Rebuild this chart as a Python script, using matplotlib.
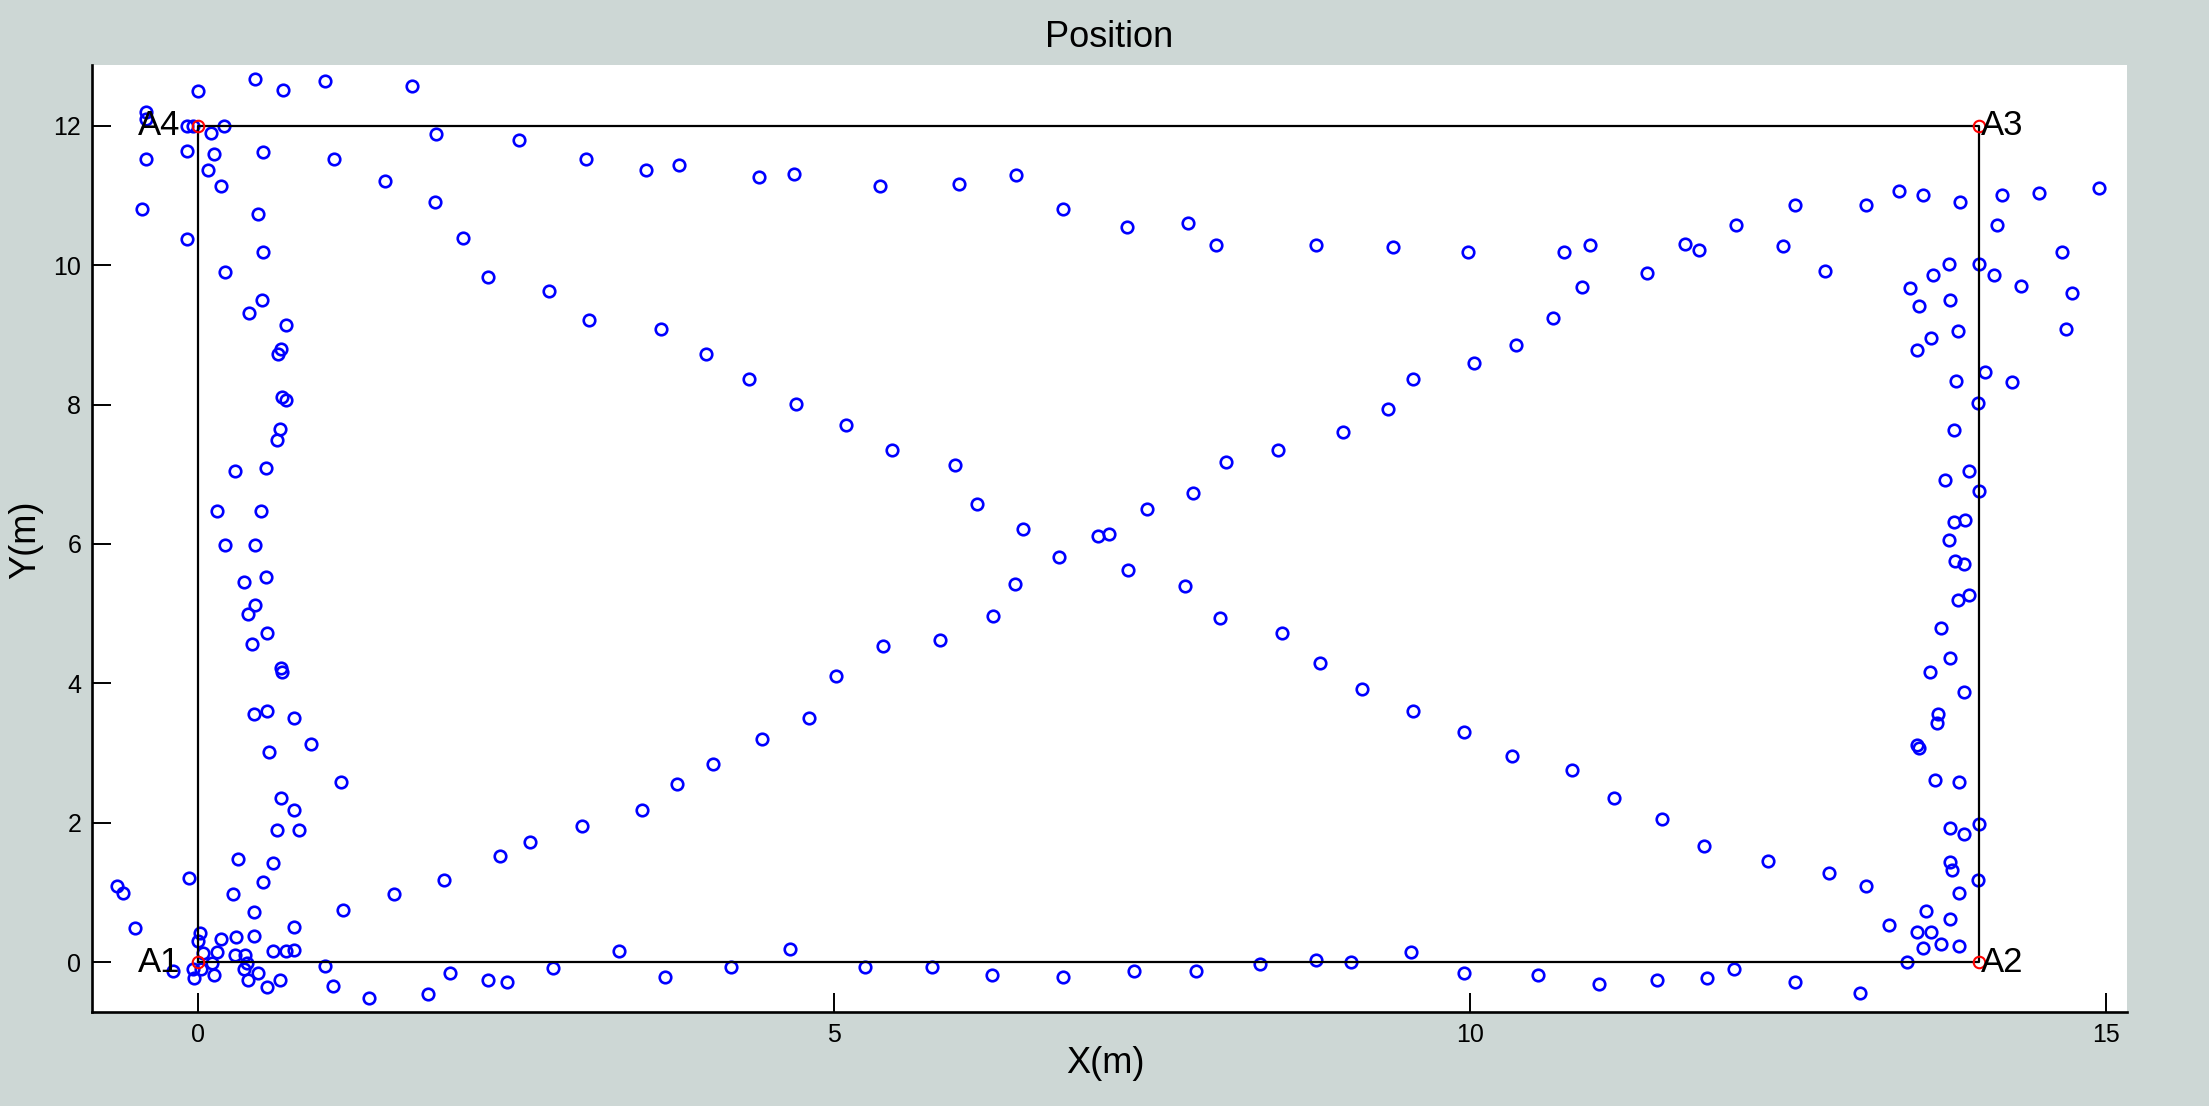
import matplotlib
matplotlib.use("Agg")
import matplotlib.pyplot as plt

plt.rcParams['font.family'] = ['Liberation Sans', 'DejaVu Sans']

# ---- data ----
x_pos = [
    # top-left region
    0.0, 0.45, 0.67, 1.0, 1.68, -0.41, -0.41, -0.09, -0.04, 0.2, 0.1,
    1.87, 2.52, 3.05, -0.41, -0.09, 0.12, 0.51, 1.07, 0.08, 0.18, 1.47, 1.86,
    -0.44, 0.47, 2.08, -0.09, 0.51, 0.21, 2.28, 2.76, 0.5, 0.40, 0.69, 3.07,
    0.65, 0.63,
    # top middle
    3.52, 3.78, 4.41, 4.68, 5.36, 5.98, 6.43, 6.8, 3.64, 3.99, 4.33,
    7.30, 7.78, 8.0, 8.79, 9.39, 9.98, 10.74, 10.94, 10.88, 10.65, 10.36,
    10.03, 9.55,
    # top right
    11.39, 11.69, 11.8, 12.09, 12.46, 12.55, 12.79, 13.11, 13.37, 13.56, 13.85,
    14.18, 14.47, 14.94, 14.14, 14.65, 14.73, 14.68, 14.33, 14.12, 14.0, 13.76,
    13.64, 13.46, 13.53, 13.77, 13.83, 13.62, 13.51, 13.82, 14.05, 14.26,
    # right column
    13.99, 13.80, 13.92, 13.73, 14.0, 13.89, 13.80, 13.76, 13.81, 13.88, 13.92,
    13.83, 13.70, 13.77, 13.61, 13.88, 13.68, 13.67, 13.51, 13.53, 13.65, 13.84,
    14.0, 13.77, 13.88, 13.77, 13.79, 13.99, 13.84, 13.58, 13.77, 13.29, 13.51,
    13.62, 13.70, 13.56, 13.84, 13.43,
    # lower right diagonal
    11.51, 11.84, 12.34, 12.82, 13.11,
    # bottom right
    11.47, 11.86, 12.07, 12.55, 13.06,
    9.55, 9.95, 10.33, 10.80, 11.13,
    7.36, 7.84, 8.35, 8.79, 9.06, 9.53, 9.95, 10.53, 11.01,
    3.49, 3.76, 4.05, 4.43, 4.80,
    3.31, 3.67, 4.19, 4.65, 5.24, 5.77, 6.24, 6.80,
    # bottom left
    0.44, 0.54, 0.75, 0.89, 0.56, 1.12, 0.65, 0.75, 0.62, 0.79, 0.31, 0.59,
    -0.07, 0.51, -0.64, -0.59, 0.27, 0.44, 1.14, -0.5, 0.75, 0.01, 0.0, 0.18,
    0.30, 0.44, 0.04, 0.15, 0.29, 0.37, 0.59, 0.69, 0.75, 1.54, 1.93, 2.37,
    2.61, 3.02,
    0.11, -0.2, -0.04, 0.02, -0.03, 0.12, 0.36, 0.38, 0.47, 0.39, 0.54, 0.64,
    1.0, 1.06, 1.34, 1.81, 1.98, 2.28, 2.43, 2.79,
    # left column middle
    0.66, 0.69, 0.64, 0.62, 0.29, 0.53, 0.15, 0.49, 0.21, 0.45, 0.36, 0.53,
    0.45, 0.39, 0.54, 0.42, 0.65, 0.66,
    # centre crossing
    4.70, 5.09, 5.45, 5.95, 6.12, 6.48, 7.07, 7.16, 6.77, 6.42, 6.25, 5.83,
    5.38, 5.01,
    9.35, 9.0, 8.49, 8.08, 7.82, 7.46, 7.31, 7.76, 8.03, 8.52, 8.82, 9.15,
]
y_pos = [
    12.49, 12.67, 12.51, 12.64, 12.57, 12.19, 12.1, 11.99, 12.0, 11.99, 11.9,
    11.88, 11.8, 11.52, 11.52, 11.63, 11.59, 11.62, 11.52, 11.37, 11.14, 11.21, 10.9,
    10.8, 10.73, 10.39, 10.37, 10.19, 9.9, 9.83, 9.63, 9.5, 9.32, 9.14, 9.21,
    8.79, 8.73,
    11.37, 11.44, 11.26, 11.31, 11.13, 11.16, 11.29, 10.8, 9.09, 8.73, 8.37,
    10.55, 10.6, 10.29, 10.29, 10.26, 10.19, 10.19, 10.29, 9.68, 9.24, 8.86,
    8.60, 8.37,
    9.88, 10.3, 10.21, 10.57, 10.27, 10.86, 9.91, 10.86, 11.06, 11.01, 10.9,
    11.01, 11.03, 11.11, 10.57, 10.19, 9.6, 9.09, 9.7, 9.86, 10.01, 10.01,
    9.86, 9.67, 9.42, 9.50, 9.06, 8.96, 8.78, 8.34, 8.47, 8.32,
    8.02, 7.63, 7.04, 6.92, 6.76, 6.35, 6.32, 6.06, 5.76, 5.71, 5.27,
    5.2, 4.79, 4.36, 4.17, 3.87, 3.56, 3.43, 3.11, 3.07, 2.62, 2.59,
    1.99, 1.92, 1.84, 1.44, 1.33, 1.18, 1.0, 0.74, 0.62, 0.54, 0.44,
    0.44, 0.26, 0.2, 0.23, 0.0,
    2.06, 1.67, 1.46, 1.28, 1.10,
    -0.25, -0.23, -0.10, -0.28, -0.44,
    3.61, 3.30, 2.96, 2.76, 2.35,
    -0.13, -0.13, -0.03, 0.03, 0.0, 0.15, -0.16, -0.18, -0.31,
    2.18, 2.56, 2.84, 3.2, 3.51,
    0.16, -0.21, -0.07, 0.19, -0.07, -0.07, -0.18, -0.21,
    3.56, 3.61, 3.51, 3.13, 3.02, 2.59, 2.35, 2.18, 1.90, 1.90, 1.48, 1.43,
    1.21, 1.15, 1.09, 1.0, 0.98, 0.72, 0.75, 0.49, 0.51, 0.42, 0.31, 0.34,
    0.36, 0.38, 0.14, 0.15, 0.11, 0.11, 0.16, 0.16, 0.18, 0.98, 1.18, 1.52,
    1.72, 1.95,
    -0.01, -0.13, -0.10, -0.09, -0.23, -0.18, -0.09, -0.01, -0.15, -0.25, -0.36, -0.25,
    -0.05, -0.34, -0.51, -0.46, -0.15, -0.25, -0.28, -0.08,
    8.11, 8.06, 7.65, 7.49, 7.04, 7.09, 6.47, 6.47, 5.99, 5.99, 5.45, 5.53,
    5.12, 4.99, 4.73, 4.56, 4.22, 4.16,
    8.01, 7.70, 7.35, 7.14, 6.58, 6.22, 6.11, 6.14, 5.81, 5.43, 4.97, 4.63,
    4.53, 4.10,
    7.93, 7.6, 7.35, 7.17, 6.73, 6.50, 5.63, 5.40, 4.94, 4.73, 4.30, 3.92,
]

anchor_labels = ['A1', 'A2', 'A3', 'A4']
anchor_x = [0, 14, 14, 0]
anchor_y = [0, 0, 12, 12]

x_ticks = [0, 5, 10, 15]
y_ticks = [0, 2, 4, 6, 8, 10, 12]

# ---- figure ----
bg = '#cdd7d5'
fig = plt.figure(figsize=(22.09, 11.06), dpi=100, facecolor=bg)
ax = fig.add_axes([0.04178, 0.08472, 0.92096, 0.85651])
ax.set_facecolor('white')

ax.plot(x_pos, y_pos, linestyle='none', marker='o', markersize=8.3,
        markerfacecolor='none', markeredgecolor='#0000ff', markeredgewidth=1.9)

# room rectangle through anchors
rx = anchor_x + [anchor_x[0]]
ry = anchor_y + [anchor_y[0]]
ax.plot(rx, ry, color='black', linewidth=1.6)

ax.plot(anchor_x, anchor_y, linestyle='none', marker='o', markersize=8.3,
        markerfacecolor='none', markeredgecolor='red', markeredgewidth=1.5)

for lab, ax_x, ax_y in zip(anchor_labels, anchor_x, anchor_y):
    if ax_x == 0:
        ax.annotate(lab, (ax_x, ax_y), xytext=(-13, 0), textcoords='offset points',
                    ha='right', va='center', fontsize=25, color='black')
    else:
        ax.annotate(lab, (ax_x, ax_y), xytext=(1, 0), textcoords='offset points',
                    ha='left', va='center', fontsize=25, color='black')

ax.set_xlim(-0.833, 15.16)
ax.set_ylim(-0.717, 12.87)
ax.set_xticks(x_ticks)
ax.set_yticks(y_ticks)

for side in ['top', 'right']:
    ax.spines[side].set_visible(False)
for side in ['left', 'bottom']:
    ax.spines[side].set_linewidth(1.9)

ax.tick_params(direction='in', length=14, width=1.4, labelsize=18, pad=8,
               top=False, right=False)

ax.set_title('Position', fontsize=26, pad=13)
ax.set_xlabel('X(m)', fontsize=26)
ax.set_ylabel('Y(m)', fontsize=26)
ax.xaxis.set_label_coords(0.498, -0.036)
ax.yaxis.set_label_coords(-0.024, 0.4986)

fig.savefig('out.png', dpi=100, facecolor=bg)
